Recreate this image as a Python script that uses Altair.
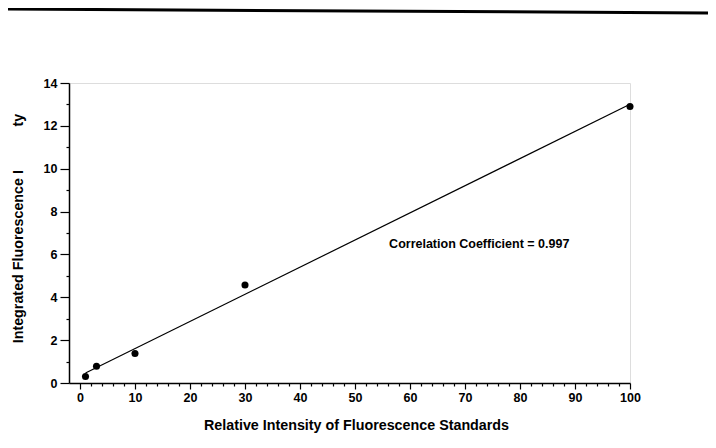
import altair as alt
import pandas as pd

# ---- data ----
x_vals = [1, 3, 10, 30, 100]
y_vals = [0.3, 0.78, 1.38, 4.57, 12.9]
note_text = ["Correlation Coefficient = 0.997"]
note_x = [56.2]
note_y = [6.5]
x_ticks = list(range(0, 101, 2))
y_ticks = list(range(0, 15))
x_title = "Relative Intensity of Fluorescence Standards"
y_title = "Integrated Fluorescence I" + "\u00a0" * 11 + "ty"

df = pd.DataFrame({"x": x_vals, "y": y_vals})
note = pd.DataFrame({"x": note_x, "y": note_y, "t": note_text})

FONT = "Liberation Sans"

xscale = alt.Scale(domain=[-2, 100], nice=False, zero=False)
yscale = alt.Scale(domain=[0, 14], nice=False)

xaxis = alt.Axis(
    values=x_ticks,
    labelExpr="datum.value % 10 === 0 ? datum.label : ''",
    tickSize={"condition": {"test": "datum.value % 10 === 0", "value": 6}, "value": 3},
    labelPadding=2,
    grid=False,
    domainColor="black", domainWidth=1.5,
    tickColor="black", tickWidth=1.2,
    labelColor="black", labelFont=FONT, labelFontSize=12.5, labelFontWeight="bold",
    labelFlush=False,
    title=x_title, titleFont=FONT, titleFontSize=14.3, titleFontWeight="bold",
    titleColor="black", titleX=287, titleY=46, titleBaseline="alphabetic",
    titleAlign="center",
)
yaxis = alt.Axis(
    values=y_ticks,
    labelExpr="datum.value % 2 === 0 ? datum.label : ''",
    tickSize={"condition": {"test": "datum.value % 2 === 0", "value": 9}, "value": 3},
    labelPadding=3,
    grid=False,
    domainColor="black", domainWidth=1.5,
    tickColor="black", tickWidth=1.2,
    labelColor="black", labelFont=FONT, labelFontSize=12.5, labelFontWeight="bold",
    labelFlush=False,
    title=y_title, titleFont=FONT, titleFontSize=14.3, titleFontWeight="bold",
    titleColor="black", titleX=-51, titleY=145, titleAngle=270,
    titleAlign="center", titleBaseline="middle",
)

base = alt.Chart(df)

points = base.mark_point(filled=True, color="black", size=50, opacity=1).encode(
    x=alt.X("x:Q", scale=xscale, axis=xaxis),
    y=alt.Y("y:Q", scale=yscale, axis=yaxis),
)

fit = base.transform_regression("x", "y", extent=[1, 100]).mark_line(
    color="black", strokeWidth=1.2
).encode(
    x=alt.X("x:Q", scale=xscale, axis=xaxis),
    y=alt.Y("y:Q", scale=yscale, axis=yaxis),
)

label = alt.Chart(note).mark_text(
    align="left", baseline="middle", font=FONT, fontSize=12.5,
    fontWeight="bold", color="black",
).encode(
    x=alt.X("x:Q", scale=xscale, axis=xaxis),
    y=alt.Y("y:Q", scale=yscale, axis=yaxis),
    text="t:N",
)

top_rule = alt.Chart(pd.DataFrame({"a": [0]})).mark_rule(
    color="black", strokeWidth=3
).encode(
    x=alt.value(-61), x2=alt.value(647), y=alt.value(-74), y2=alt.value(-70)
)

chart = alt.layer(top_rule, fit, points, label).properties(
    width=561, height=300,
    autosize=alt.AutoSizeParams(type="none"),
    padding={"left": 61, "top": 75, "right": 78, "bottom": 58},
).configure_view(stroke=None).configure(background="white")

chart.save("out.html", embed_options={"renderer": "svg", "actions": False})
